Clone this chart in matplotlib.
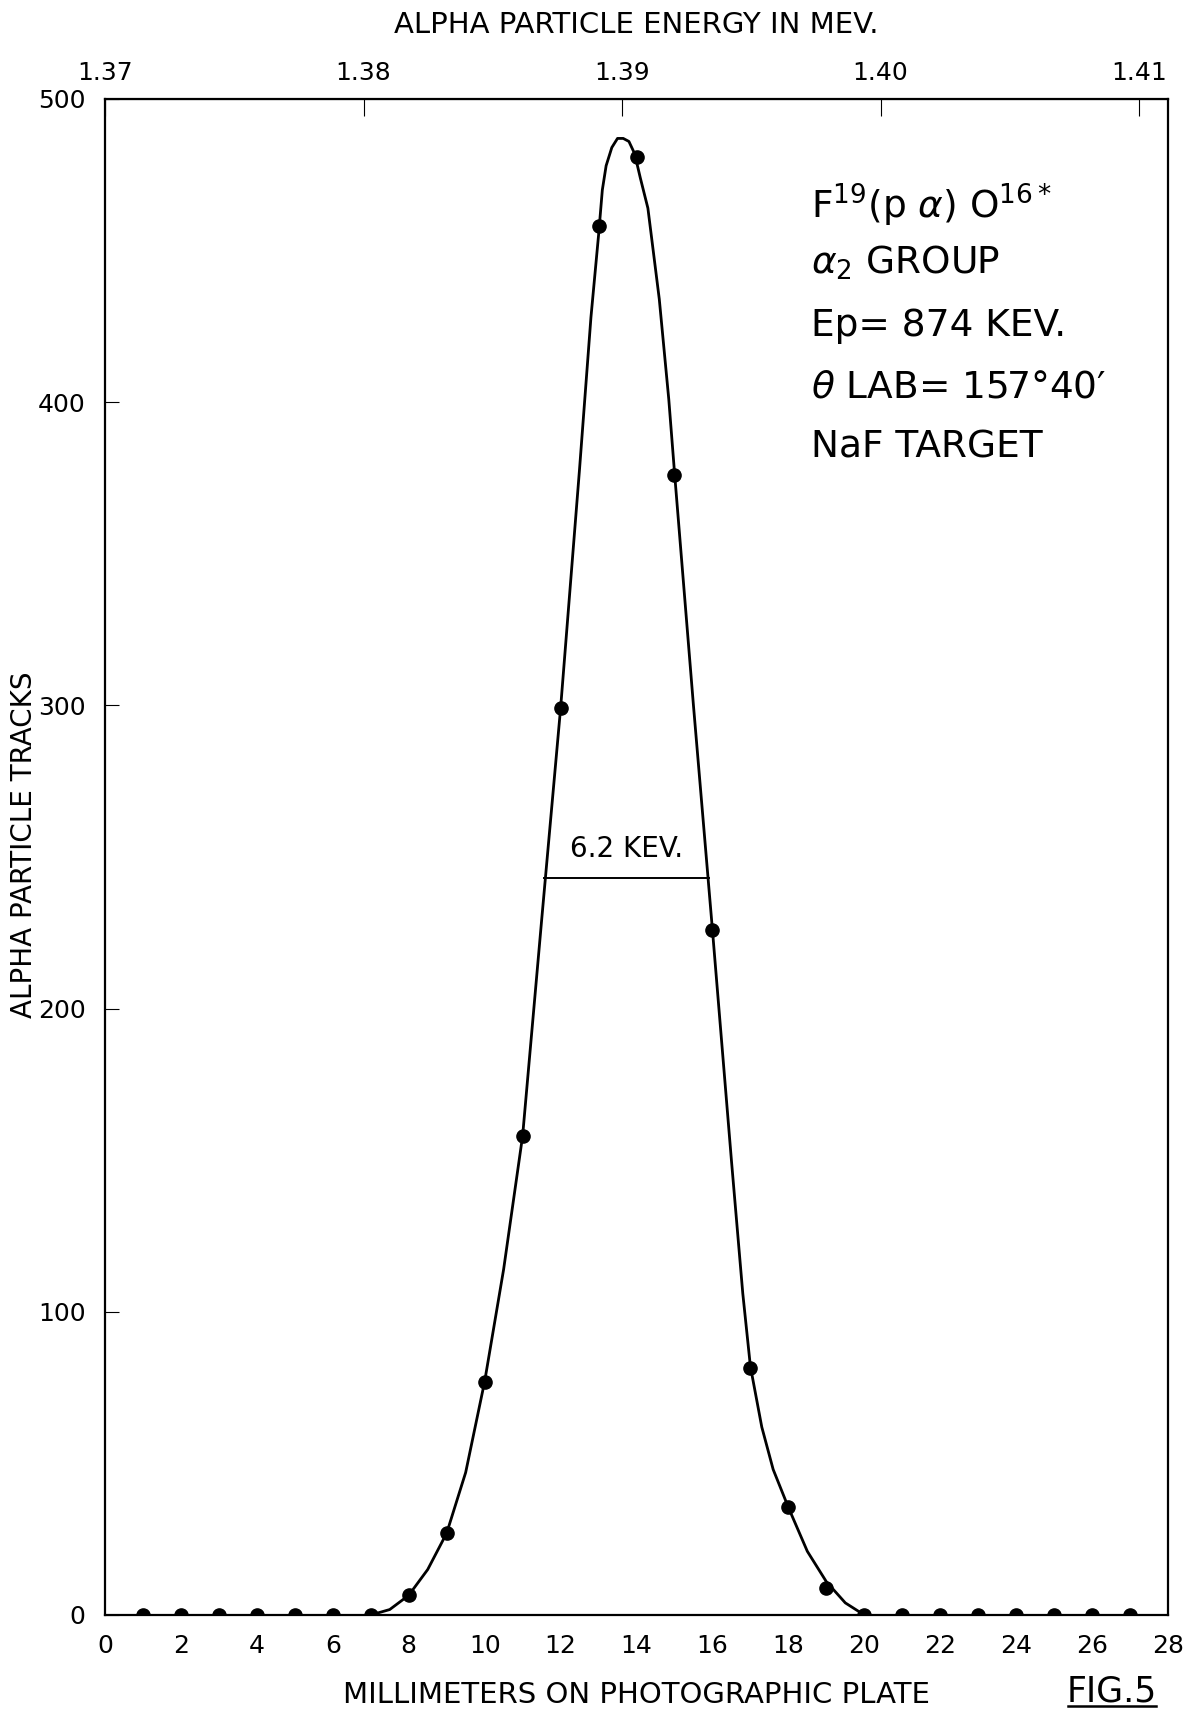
import matplotlib
matplotlib.use("Agg")
import matplotlib.pyplot as plt
import numpy as np

# measured points (mm on plate, alpha tracks)
mm_points = [1, 2, 3, 4, 5, 6, 7, 8, 9, 10, 11, 12, 13, 14, 15, 16, 17, 18, 19,
             20, 21, 22, 23, 24, 25, 26, 27]
tracks = [0, 0, 0, 0, 0, 0, 0, 6.5, 27, 77, 158, 299, 458, 481, 376, 226, 81.5, 35.5, 9,
          0, 0, 0, 0, 0, 0, 0, 0]

# hand-drawn smooth curve
curve_mm = [7.0, 7.5, 8.0, 8.5, 9.0, 9.5, 10.0, 10.5, 11.0, 11.5, 12.0, 12.5, 12.8,
            13.0, 13.1, 13.2, 13.35, 13.5, 13.65, 13.8, 13.95, 14.1, 14.3, 14.6, 14.85,
            15.0, 15.5, 16.0, 16.5, 16.8, 17.0, 17.3, 17.6, 18.0, 18.5, 19.0, 19.5, 20.0]
curve_val = [0, 1.8, 6.5, 15, 27, 47, 77, 114, 158, 229, 299, 378, 428,
             455, 470, 478, 484, 487, 487, 486, 482, 474, 464, 434, 401,
             377, 300, 226, 150, 106, 82, 62, 48, 35.5, 21, 11, 4, 0]

# FWHM marker
fwhm_left, fwhm_right, fwhm_level = 11.56, 15.92, 243

x_ticks = list(range(0, 29, 2))
y_ticks = [0, 100, 200, 300, 400, 500]
energy_ticks = [1.37, 1.38, 1.39, 1.40, 1.41]
energy_labels = ["1.37", "1.38", "1.39", "1.40", "1.41"]

annot_lines = [r"F$^{19}$(p $\alpha$) O$^{16*}$", r"$\alpha_2$ GROUP", "Ep= 874 KEV.",
               r"$\theta$ LAB= 157°40′", "NaF TARGET"]
annot_y = [465, 446, 425, 405, 385]

fig = plt.figure(figsize=(11.87, 17.09), dpi=100)
ax = fig.add_axes([105/1187, 1 - 1615/1709, (1168-105)/1187, (1615-99)/1709])

ax.plot(curve_mm, curve_val, color="black", lw=2.0, solid_capstyle="round",
        solid_joinstyle="round")
ax.plot(mm_points, tracks, "o", color="black", markersize=9.5, zorder=3)
ax.plot([fwhm_left, fwhm_right], [fwhm_level, fwhm_level], color="black", lw=1.4)
ax.text((fwhm_left + fwhm_right) / 2, fwhm_level + 5, "6.2 KEV.", ha="center", va="bottom",
        fontsize=20, color="black")

ax.set_xlim(0, 28)
ax.set_ylim(0, 500)
ax.set_xticks(x_ticks)
ax.set_yticks(y_ticks)
ax.tick_params(axis="x", direction="in", length=0, pad=14, labelsize=18)
ax.tick_params(axis="y", direction="in", length=10, pad=14, labelsize=18)
for s in ax.spines.values():
    s.set_linewidth(1.6)

slope = 6.81  # mm per 0.01 MeV
sec = ax.secondary_xaxis("top", functions=(lambda m: 1.37 + m * 0.01 / slope,
                                           lambda e: (e - 1.37) * slope / 0.01))
sec.set_xticks(energy_ticks)
sec.set_xticklabels(energy_labels)
sec.tick_params(direction="in", length=12, pad=10, labelsize=18)
sec.set_xlabel("ALPHA PARTICLE ENERGY IN MEV.", fontsize=21, labelpad=20)

ax.set_xlabel("MILLIMETERS ON PHOTOGRAPHIC PLATE", fontsize=21, labelpad=16)
fig.text(24/1187, 1 - 845/1709, "ALPHA PARTICLE TRACKS", fontsize=20, rotation=90,
         ha="center", va="center")

for t, yv in zip(annot_lines, annot_y):
    ax.text(18.6, yv, t, fontsize=27, ha="left", va="center", color="black")

fig.text(1112/1187, 1 - 1692/1709, "FIG.5", fontsize=25, ha="center", va="center")
fig.add_artist(plt.Line2D([1068/1187, 1156/1187], [1 - 1706/1709, 1 - 1706/1709],
                          color="black", lw=1.8))

fig.savefig("out.png", dpi=100)
